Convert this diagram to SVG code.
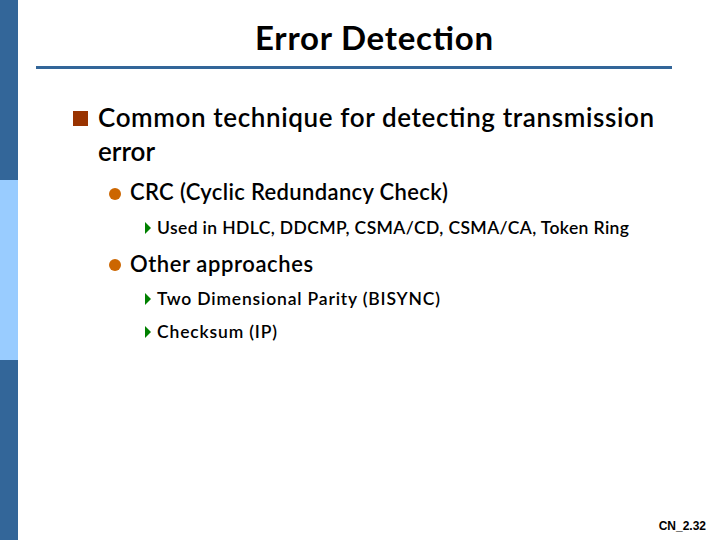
<svg xmlns="http://www.w3.org/2000/svg" width="720" height="540" viewBox="0 0 720 540">
<style>
.t{font-family:Lato,"Liberation Sans",sans-serif;fill:#000}
.h{font-size:33px;font-weight:bold}
.l1{font-size:26px;font-weight:600}
.l2{font-size:22px;font-weight:600}
.l3{font-size:17.5px;font-weight:600}
.o{fill:#cc6600}.g{fill:#008000}
</style>
<rect width="720" height="540" fill="#fff"/>
<rect x="0" y="0" width="18" height="180" fill="#336699"/>
<rect x="0" y="180" width="18" height="180" fill="#99ccff"/>
<rect x="0" y="360" width="18" height="180" fill="#336699"/>
<text class="t h" x="255" y="50" textLength="238">Error Detection</text>
<rect x="36" y="66" width="636" height="3" fill="#336699"/>
<rect x="73" y="111" width="15" height="15" fill="#993300"/>
<text class="t l1" x="98" y="127" textLength="556">Common technique for detecting transmission</text>
<text class="t l1" x="98" y="161">error</text>
<circle class="o" cx="115" cy="194" r="6"/>
<text class="t l2" x="130" y="200" textLength="318">CRC (Cyclic Redundancy Check)</text>
<path class="g" d="M145 222 L151 228 L145 234 Z"/>
<text class="t l3" x="157" y="234" textLength="472">Used in HDLC, DDCMP, CSMA/CD, CSMA/CA, Token Ring</text>
<circle class="o" cx="115" cy="265" r="6"/>
<text class="t l2" x="130" y="272" textLength="183">Other approaches</text>
<path class="g" d="M145 293 L151 299 L145 305 Z"/>
<text class="t l3" x="157" y="305" textLength="283">Two Dimensional Parity (BISYNC)</text>
<path class="g" d="M145 326 L151 332 L145 338 Z"/>
<text class="t l3" x="157" y="338" textLength="120">Checksum (IP)</text>
<text x="706" y="530" text-anchor="end" style="font-family:'Liberation Sans',Arial,sans-serif;font-size:12px;font-weight:bold">CN_2.32</text>
</svg>
